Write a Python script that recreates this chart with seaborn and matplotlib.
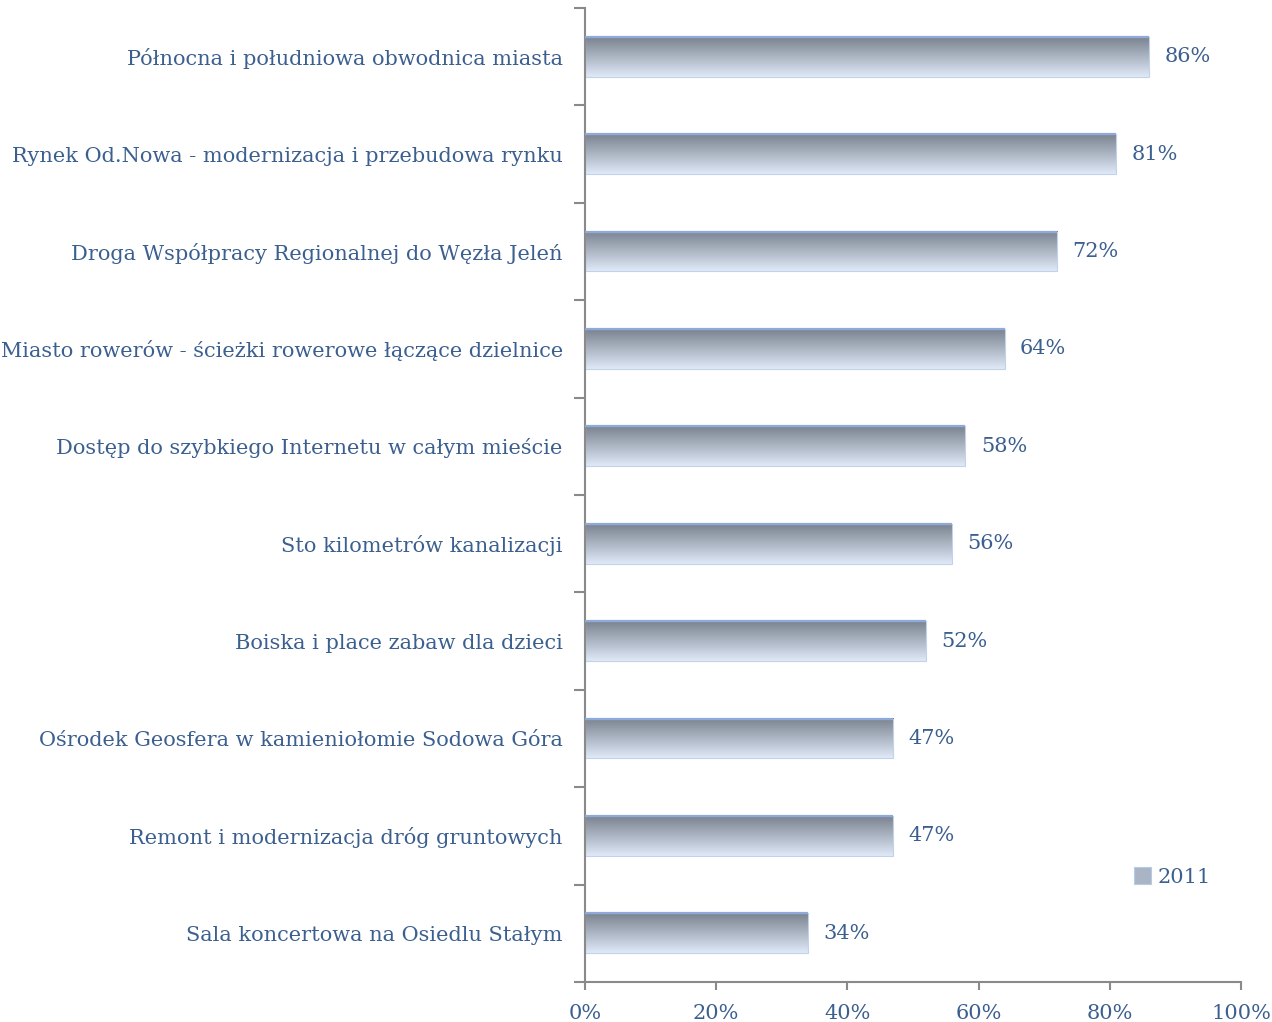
import numpy as np
import pandas as pd
import matplotlib
matplotlib.use("Agg")
import matplotlib.pyplot as plt
import seaborn as sns
from matplotlib.patches import Patch
from matplotlib.ticker import FixedLocator

categories = [
    "Północna i południowa obwodnica miasta",
    "Rynek Od.Nowa - modernizacja i przebudowa rynku",
    "Droga Współpracy Regionalnej do Węzła Jeleń",
    "Miasto rowerów - ścieżki rowerowe łączące dzielnice",
    "Dostęp do szybkiego Internetu w całym mieście",
    "Sto kilometrów kanalizacji",
    "Boiska i place zabaw dla dzieci",
    "Ośrodek Geosfera w kamieniołomie Sodowa Góra",
    "Remont i modernizacja dróg gruntowych",
    "Sala koncertowa na Osiedlu Stałym",
]
values = [86, 81, 72, 64, 58, 56, 52, 47, 47, 34]
series_name = "2011"
x_ticks = [0, 20, 40, 60, 80, 100]
x_ticklabels = ["0%", "20%", "40%", "60%", "80%", "100%"]

TEXT = "#3b5f8f"
AXIS = "#8a8a8a"
FONT = "DejaVu Serif"

sns.set_theme(style="white")
plt.rcParams["font.family"] = [FONT, "DejaVu Sans"]

df = pd.DataFrame({"category": categories, "value": values})

fig = plt.figure(figsize=(12.72, 10.22), dpi=100)
ax = fig.add_axes([585 / 1272, 1 - 982 / 1022, (1241 - 585) / 1272, (982 - 8) / 1022])

sns.barplot(data=df, y="category", x="value", orient="h", ax=ax,
            width=0.41, color="#b0bccb", edgecolor="none", zorder=2)

# gradient fill
top_c = np.array([0x7b, 0x83, 0x90]) / 255
bot_c = np.array([0xdf, 0xe9, 0xf7]) / 255
t = np.linspace(0, 1, 64)[:, None]
grad = (top_c[None, :] * (1 - t) + bot_c[None, :] * t)[:, None, :]

for p in ax.patches:
    x0, y0, w, h = p.get_x(), p.get_y(), p.get_width(), p.get_height()
    p.set_facecolor("none")
    p.set_edgecolor("#c2d2ea")
    p.set_linewidth(0.8)
    ax.imshow(grad, extent=[x0, x0 + w, y0 + h, y0], origin="upper",
              aspect="auto", zorder=1.5, interpolation="bilinear")
    ax.plot([x0, x0 + w], [y0, y0], color="#8eaadb", lw=1.6, zorder=3,
            solid_capstyle="butt")

ax.set_xlim(0, 100)
ax.set_ylim(len(categories) - 0.5, -0.5)

for c in ax.containers:
    ax.bar_label(c, labels=[f"{v}%" for v in values], padding=11,
                 color=TEXT, fontsize=15, family=FONT)

ax.set_xlabel("")
ax.set_ylabel("")
ax.xaxis.set_major_locator(FixedLocator(x_ticks))
ax.set_xticklabels(x_ticklabels)
ax.tick_params(axis="x", which="major", length=6, width=1.5, color=AXIS,
               direction="out", bottom=True, pad=10, labelsize=15, labelcolor=TEXT)
ax.tick_params(axis="y", which="major", length=0, pad=16, labelsize=15, labelcolor=TEXT)
ax.yaxis.set_minor_locator(FixedLocator(np.arange(-0.5, len(categories), 1.0)))
ax.tick_params(axis="y", which="minor", length=8, width=1.5, color=AXIS,
               direction="out", left=True)

for s in ["top", "right"]:
    ax.spines[s].set_visible(False)
for s in ["left", "bottom"]:
    ax.spines[s].set_color(AXIS)
    ax.spines[s].set_linewidth(1.5)
ax.grid(False)

handle = Patch(facecolor="#a9b5c5", edgecolor="#b5c9ea", linewidth=0.8)
leg = fig.legend([handle], [series_name], loc="center left",
                 bbox_to_anchor=(1124 / 1272, 1 - 877 / 1022), frameon=False,
                 handlelength=0.8, handleheight=0.9, handletextpad=0.3,
                 borderpad=0, fontsize=15)
for tx in leg.get_texts():
    tx.set_color(TEXT)

fig.savefig("out.png", dpi=100)
